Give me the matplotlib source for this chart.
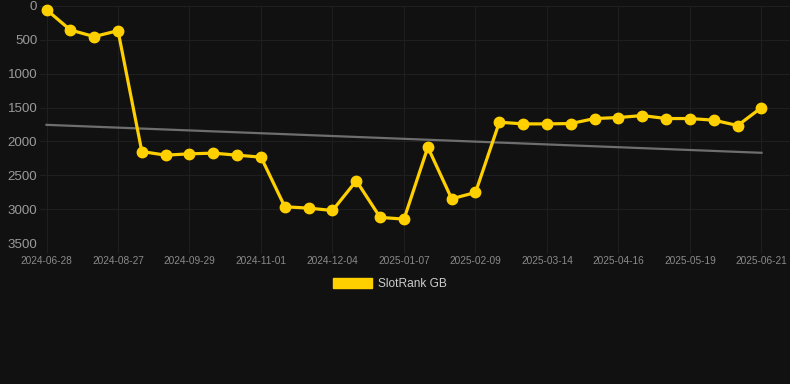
import numpy as np
import matplotlib
matplotlib.use("Agg")
import matplotlib.pyplot as plt
from matplotlib.patches import Patch

# Data
tick_labels = ["2024-06-28", "2024-08-27", "2024-09-29", "2024-11-01", "2024-12-04",
               "2025-01-07", "2025-02-09", "2025-03-14", "2025-04-16", "2025-05-19",
               "2025-06-21"]
rank_values = [55, 354, 452, 364, 2149, 2203, 2183, 2173, 2203, 2232,
               2965, 2985, 3020, 2581, 3122, 3147, 2085, 2847, 2754, 1716,
               1741, 1741, 1736, 1662, 1647, 1618, 1662, 1662, 1686, 1765,
               1500]
trend_ends = [1755, 2168]
series_name = "SlotRank GB"

W, H = 790, 384
fig = plt.figure(figsize=(W / 100, H / 100), dpi=100)
fig.patch.set_facecolor("#111111")

ax_left, ax_right = 40, 790
ax_top, ax_bottom = 6, 243
ax = fig.add_axes([ax_left / W, 1 - ax_bottom / H, (ax_right - ax_left) / W, (ax_bottom - ax_top) / H])
ax.set_facecolor("#111111")

x = np.arange(len(rank_values))
y = np.array(rank_values, dtype=float)

# trend line
ax.plot([x[0], x[-1]], trend_ends, color="#6e6e6e", linewidth=1.6, zorder=2)

ax.plot(x, y, color="#ffd000", linewidth=2.3, marker="o", markersize=7.5,
        markerfacecolor="#ffd000", markeredgecolor="#ffd000", zorder=3, clip_on=False)

px_per = (761.5 - 46.5) / 30
ax.set_xlim(-(46.5 - ax_left) / px_per, 30 + (ax_right - 761.5) / px_per)
ax.set_ylim(3500, 0)

ax.set_xticks(x[::3])
ax.set_xticklabels(tick_labels)
ax.set_yticks([0, 500, 1000, 1500, 2000, 2500, 3000, 3500])

ax.grid(True, color="#1f1f1f", linewidth=0.8)
for s in ax.spines.values():
    s.set_visible(False)

ax.tick_params(axis="x", colors="#1f1f1f", length=7, width=0.8, labelcolor="#8a8a8a",
               labelsize=7.3, pad=2)
ax.tick_params(axis="y", length=0, labelcolor="#9a9a9a", labelsize=9.6, pad=2)
for lab in ax.get_xticklabels() + ax.get_yticklabels():
    lab.set_family("Liberation Sans")

leg = fig.legend(handles=[Patch(facecolor="#ffd000", edgecolor="#ffd000")], labels=[series_name],
                 loc="center", bbox_to_anchor=(390 / W, 1 - 284 / H), frameon=False,
                 handlelength=3.3, handleheight=1.0, handletextpad=0.5,
                 prop={"family": "Liberation Sans", "size": 8.6})
for t in leg.get_texts():
    t.set_color("#cccccc")

fig.savefig("out.png", dpi=100, facecolor=fig.get_facecolor())
